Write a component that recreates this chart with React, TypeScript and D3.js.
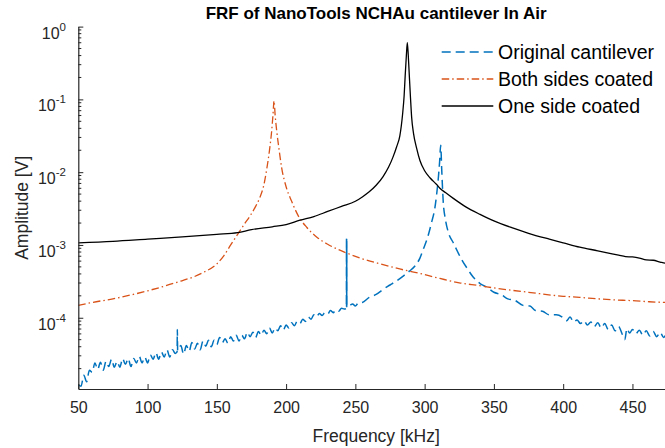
import React, { useEffect, useRef } from "react";
import * as d3 from "d3";

// values: [frequency in kHz, log10 of amplitude in V]
const originalCantilever: [number, number][] = [
  [50, -4.92], [52, -4.94], [54, -4.79], [56, -4.88], [58, -4.72], [60, -4.75], [62, -4.62], [64, -4.71],
  [66, -4.61], [68, -4.72], [70, -4.6], [72, -4.67], [74, -4.57], [76, -4.68], [78, -4.6], [80, -4.68],
  [82, -4.56], [84, -4.64], [86, -4.56], [88, -4.67], [90, -4.56], [92, -4.62], [94, -4.53], [96, -4.62],
  [98, -4.54], [100, -4.62], [102, -4.51], [104, -4.57], [106, -4.48], [108, -4.57], [110, -4.47], [112, -4.54],
  [114, -4.44], [116, -4.54], [118, -4.44], [120, -4.49], [121.3, -4.47], [121.5, -4.16], [121.7, -4.45],
  [124, -4.38], [126, -4.5], [128, -4.38], [130, -4.46], [132, -4.34], [134, -4.43], [136, -4.35], [138, -4.44],
  [140, -4.32], [142, -4.39], [144, -4.31], [146, -4.4], [148, -4.31], [150, -4.37], [152, -4.27], [154, -4.34],
  [156, -4.29], [158, -4.35], [160, -4.26], [162, -4.32], [164, -4.24], [166, -4.32], [168, -4.24], [170, -4.29],
  [172, -4.2], [174, -4.26], [176, -4.2], [178, -4.27], [180, -4.19], [182, -4.24], [184, -4.17], [186, -4.22],
  [188, -4.14], [190, -4.21], [192, -4.14], [194, -4.18], [196, -4.11], [198, -4.17], [200, -4.1], [202, -4.14],
  [204, -4.07], [206, -4.11], [208, -4.05], [210, -4.08], [212, -4.02], [214, -4.05], [216, -3.99], [218, -4.02],
  [220, -3.96], [222, -3.99], [224, -3.94], [226, -3.97], [228, -3.93], [230, -3.95], [232, -3.9], [234, -3.93],
  [236, -3.89], [238, -3.91], [240, -3.87], [242, -3.88], [243.5, -3.87], [243.6, -2.9], [243.65, -3.86],
  [243.7, -2.92], [243.75, -3.85], [243.8, -2.95], [243.9, -3.84], [246, -3.83], [248, -3.81], [250, -3.84],
  [252, -3.8], [255, -3.79], [260, -3.72], [265, -3.68], [270, -3.61], [275, -3.55], [280, -3.49], [285, -3.42],
  [289, -3.36], [293, -3.29], [296.6, -3.18], [299, -3.06], [301, -2.96], [303, -2.84], [305, -2.69],
  [307.4, -2.49], [308.7, -2.3], [309.8, -2.1], [310.8, -1.86], [311.6, -1.63], [312.3, -1.95], [313.4, -2.4],
  [315, -2.65], [317, -2.82], [320.7, -2.97], [324, -3.1], [326.7, -3.2], [331, -3.33], [335, -3.44],
  [340, -3.53], [345, -3.58], [350, -3.65], [355, -3.68], [360, -3.74], [365, -3.76], [371, -3.83], [376, -3.84],
  [380, -3.9], [385, -3.91], [390, -3.96], [395, -3.96], [400, -4.0], [402.5, -4.04], [405, -3.99], [407.5, -4.06],
  [410, -4.03], [412.5, -4.08], [415, -4.04], [417.5, -4.1], [420, -4.06], [422.5, -4.12], [425, -4.07],
  [427.5, -4.14], [430, -4.08], [432.5, -4.16], [435, -4.1], [437.5, -4.18], [440, -4.12], [442.5, -4.22],
  [444.5, -4.3], [446, -4.15], [448, -4.21], [450, -4.16], [452.5, -4.22], [455, -4.17], [457.5, -4.24],
  [460, -4.18], [462.5, -4.25], [465, -4.19], [467.5, -4.26], [470, -4.2], [472.5, -4.27], [475, -4.22],
  [477.5, -4.28], [480, -4.23],
];

const bothSidesCoated: [number, number][] = [
  [50, -3.83], [60, -3.79], [75, -3.74], [100, -3.63], [120, -3.52], [140, -3.38], [150, -3.26], [155, -3.15],
  [160, -3.0], [165.5, -2.84], [170, -2.71], [174, -2.6], [178, -2.47], [181, -2.35], [184, -2.17], [186, -1.96],
  [188, -1.7], [189.6, -1.43], [190.5, -1.22], [191.3, -1.02], [192.1, -1.22], [193.2, -1.43], [195, -1.7],
  [196.8, -1.94], [200, -2.2], [204, -2.4], [208.8, -2.6], [215, -2.76], [222, -2.89], [230, -2.99],
  [243.7, -3.11], [255, -3.19], [270, -3.27], [282, -3.33], [294, -3.38], [311, -3.46], [325, -3.52],
  [340, -3.56], [350, -3.59], [375, -3.65], [400, -3.705], [412, -3.72], [425, -3.74], [437, -3.755],
  [450, -3.765], [462, -3.78], [473.5, -3.79], [480, -3.795],
];

const oneSideCoated: [number, number][] = [
  [50, -2.97], [75, -2.95], [100, -2.92], [125, -2.89], [150, -2.855], [165, -2.83], [175, -2.79], [190, -2.75],
  [200, -2.72], [210, -2.66], [220, -2.61], [230, -2.54], [240, -2.47], [250, -2.4], [255, -2.34], [260, -2.27],
  [265, -2.18], [270, -2.06], [274, -1.93], [277, -1.8], [279.8, -1.65], [282.1, -1.5], [284.1, -1.2],
  [285.2, -0.95], [286, -0.66], [286.8, -0.4], [287.5, -0.22], [288.2, -0.4], [288.9, -0.66], [289.8, -0.98],
  [290.6, -1.24], [292, -1.47], [294.2, -1.67], [296.6, -1.84], [300, -1.98], [304, -2.08], [308.7, -2.17],
  [311, -2.22], [315, -2.28], [320.7, -2.36], [330, -2.48], [340, -2.58], [350, -2.67], [364, -2.77],
  [375, -2.84], [390, -2.92], [400, -2.97], [412, -3.03], [425, -3.08], [440, -3.14], [445, -3.16],
  [450, -3.165], [455, -3.18], [460, -3.205], [465, -3.21], [470, -3.235], [473.5, -3.25], [476, -3.245],
  [480, -3.26],
];

const seriesNames = ["Original cantilever", "Both sides coated", "One side coated"];
const freqTicks = [50, 100, 150, 200, 250, 300, 350, 400, 450];
const decadeExponents = [0, -1, -2, -3, -4];

const FONT = "'Liberation Sans', Arial, Helvetica, sans-serif";
const AXIS_COLOR = "#262626";

function App() {
  const ref = useRef<SVGSVGElement>(null);

  useEffect(() => {
    const svg = d3.select(ref.current);
    svg.selectAll("*").remove();

    const left = 78.3, right = 674, top = 26.6, bottom = 389;

    const x = d3.scaleLinear().domain([50, 480]).range([left, right]);
    const y = d3.scaleLog().domain([1.05e-5, 1]).range([bottom, top]);

    svg.append("defs").append("clipPath").attr("id", "plot-clip")
      .append("rect")
      .attr("x", left).attr("y", top - 2)
      .attr("width", right - left).attr("height", bottom - top + 2);

    // lines, in plotting order
    const line = d3.line<[number, number]>()
      .x(d => x(d[0]))
      .y(d => y(Math.pow(10, d[1])))
      .curve(d3.curveMonotoneX);

    const styles = [
      { data: originalCantilever, color: "#0072BD", width: 1.5, dash: "9,5" },
      { data: bothSidesCoated, color: "#D95319", width: 1.3, dash: "7.5,3,1.5,3" },
      { data: oneSideCoated, color: "#000000", width: 1.3, dash: null },
    ];

    const plot = svg.append("g").attr("clip-path", "url(#plot-clip)");
    styles.forEach(s => {
      plot.append("path")
        .datum(s.data)
        .attr("d", line)
        .attr("fill", "none")
        .attr("stroke", s.color)
        .attr("stroke-width", s.width)
        .attr("stroke-dasharray", s.dash)
        .attr("stroke-linejoin", "round");
    });

    // x axis, ticks pointing inward
    const xAxis = svg.append("g")
      .attr("transform", "translate(0," + bottom + ")")
      .call(d3.axisBottom(x).tickValues(freqTicks).tickSizeInner(-5).tickSizeOuter(0).tickPadding(13));
    xAxis.select(".domain").attr("stroke", AXIS_COLOR).attr("stroke-width", 1.2);
    xAxis.selectAll(".tick line").attr("stroke", AXIS_COLOR);
    xAxis.selectAll(".tick text")
      .attr("fill", AXIS_COLOR)
      .style("font-family", FONT)
      .style("font-size", "16px");

    // y axis (log), decades + minor ticks
    const decades = decadeExponents.map(e => Math.pow(10, e));
    const yAxis = svg.append("g")
      .attr("transform", "translate(" + left + ",0)")
      .call(d3.axisLeft(y).tickValues(decades).tickSizeInner(-5).tickSizeOuter(0).tickFormat(() => ""));
    yAxis.select(".domain").attr("stroke", AXIS_COLOR).attr("stroke-width", 1.2);
    yAxis.selectAll(".tick line").attr("stroke", AXIS_COLOR);

    const minor: number[] = [];
    [-5, -4, -3, -2, -1].forEach(e => {
      for (let m = 2; m <= 9; m++) {
        const v = m * Math.pow(10, e);
        if (v > y.domain()[0]) minor.push(v);
      }
    });
    svg.append("g").selectAll("line")
      .data(minor)
      .enter().append("line")
      .attr("x1", left).attr("x2", left + 3)
      .attr("y1", d => y(d)).attr("y2", d => y(d))
      .attr("stroke", AXIS_COLOR)
      .attr("stroke-width", 1);

    const yLabels = svg.append("g")
      .style("font-family", FONT)
      .attr("fill", AXIS_COLOR);
    decadeExponents.forEach(e => {
      const t = yLabels.append("text")
        .attr("x", 66)
        .attr("y", y(Math.pow(10, e)) + 12)
        .attr("text-anchor", "end")
        .style("font-size", "16px");
      t.append("tspan").text("10");
      t.append("tspan").attr("dy", -8).style("font-size", "11.5px").text(String(e));
    });

    // title and axis labels
    const cx = (left + right) / 2;
    svg.append("text")
      .attr("x", cx).attr("y", 19)
      .attr("text-anchor", "middle")
      .style("font-family", FONT)
      .style("font-size", "17px")
      .style("font-weight", "bold")
      .attr("fill", "#000")
      .text("FRF of NanoTools NCHAu cantilever In Air");

    svg.append("text")
      .attr("x", cx).attr("y", 442)
      .attr("text-anchor", "middle")
      .style("font-family", FONT)
      .style("font-size", "17.5px")
      .attr("fill", AXIS_COLOR)
      .text("Frequency [kHz]");

    svg.append("text")
      .attr("transform", "translate(28," + (top + bottom) / 2 + ") rotate(-90)")
      .attr("text-anchor", "middle")
      .style("font-family", FONT)
      .style("font-size", "17.5px")
      .attr("fill", AXIS_COLOR)
      .text("Amplitude [V]");

    // legend, no box
    const legend = svg.append("g");
    const rowY = [52, 79, 106];
    styles.forEach((s, i) => {
      legend.append("line")
        .attr("x1", 441.7).attr("x2", 493.3)
        .attr("y1", rowY[i]).attr("y2", rowY[i])
        .attr("stroke", s.color)
        .attr("stroke-width", s.width)
        .attr("stroke-dasharray", s.dash);
      legend.append("text")
        .attr("x", 498).attr("y", rowY[i] + 7)
        .style("font-family", FONT)
        .style("font-size", "19.5px")
        .attr("fill", "#000")
        .text(seriesNames[i]);
    });
  }, []);

  return (
    <svg
      ref={ref}
      width={665}
      height={448}
      style={{ position: "absolute", left: 0, top: 0, background: "#fff" }}
    />
  );
}

export default App;
